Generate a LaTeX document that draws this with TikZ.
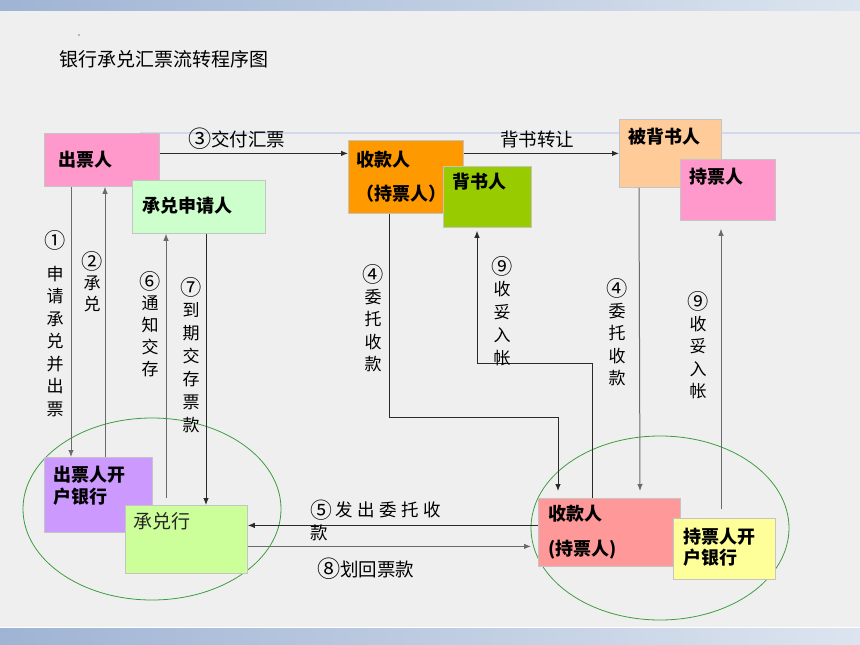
\documentclass[tikz,border=0pt]{standalone}
\usepackage{fontspec}
\setmainfont{Noto Sans CJK SC}
\usetikzlibrary{arrows.meta,calc}
\definecolor{bg}{HTML}{EFEFEF}
\definecolor{barA}{HTML}{9FB4D4}
\definecolor{barB}{HTML}{DCE4EF}
\definecolor{boxline}{HTML}{C4C4C4}
\definecolor{cpink}{HTML}{FF99CC}
\definecolor{corange}{HTML}{FF9900}
\definecolor{cgreen}{HTML}{99CC00}
\definecolor{cpeach}{HTML}{FFCC99}
\definecolor{clgreen}{HTML}{CCFFCC}
\definecolor{cpurple}{HTML}{CC99FF}
\definecolor{cyg}{HTML}{CCFF99}
\definecolor{csalmon}{HTML}{FF9999}
\definecolor{cyellow}{HTML}{FFFF99}
\definecolor{ellgreen}{HTML}{3E9E3E}
\definecolor{linedark}{HTML}{2A2A2A}
\definecolor{linegrey}{HTML}{6A6A6A}
\newcommand\cnum[1]{\raisebox{-0.09em}{\scalebox{1.25}{#1}}}
\begin{document}
\begin{tikzpicture}[x=1pt,y=-1pt,
  box/.style={draw=boxline, line width=0.8pt, inner sep=0pt, anchor=north west},
  boxtxt/.style={inner sep=0pt, anchor=west, align=left, font=\fontsize{18}{22}\selectfont\bfseries},
  lbl/.style={inner sep=0pt, anchor=west, font=\fontsize{18.5}{22}\selectfont},
  vlbl/.style={inner sep=0pt, anchor=north, align=center, font=\fontsize{17}{23}\selectfont},
  arrd/.style={draw=linedark, line width=0.9pt, -{Latex[length=7pt,width=5.5pt]}},
  arrg/.style={draw=linegrey, line width=1pt, -{Latex[length=7pt,width=5.5pt]}},
  ell/.style={draw=ellgreen, line width=0.8pt}
]
\useasboundingbox (0,0) rectangle (860,645);
% background
\fill[bg] (0,0) rectangle (860,645);
\shade[left color=barA, right color=barB] (0,0) rectangle (860,10);
\shade[left color=barA, right color=barB] (0,627) rectangle (860,645);
\draw[white, line width=1pt] (0,627) -- (860,627);
\draw[barB!80!barA, line width=1.5pt] (140,133) -- (860,133);
\fill[gray] (79,35) circle (0.8);

% title
\node[lbl, font=\fontsize{19}{22}\selectfont] (title) at (59,59) {银行承兑汇票流转程序图};

% ellipses
\draw[ell] (152,509) ellipse [x radius=129, y radius=91];
\draw[ell] (660,528) ellipse [x radius=129, y radius=92];

% boxes
\node[box, fill=cpink, minimum width=115pt, minimum height=53pt] (cp) at (44,133) {};
\node[box, fill=clgreen, minimum width=133pt, minimum height=53pt] (sq) at (132,180) {};
\node[box, fill=corange, minimum width=115pt, minimum height=73pt] (sk) at (348,140) {};
\node[box, fill=cgreen, minimum width=88pt, minimum height=61pt] (bs) at (443,166) {};
\node[box, fill=cpeach, minimum width=102pt, minimum height=68pt] (bbs) at (619,119) {};
\node[box, fill=cpink, minimum width=95pt, minimum height=61pt] (cpr) at (680,159) {};
\node[box, fill=cpurple, minimum width=108pt, minimum height=75pt] (cpb) at (44,457) {};
\node[box, fill=cyg, minimum width=122pt, minimum height=68pt] (cdh) at (125,505) {};
\node[box, fill=csalmon, minimum width=142pt, minimum height=68pt] (skb) at (538,498) {};
\node[box, fill=cyellow, minimum width=102pt, minimum height=61pt] (cpkb) at (673,518) {};

% box texts
\node[boxtxt] (cpT) at (58,160) {出票人};
\node[boxtxt] (sqT) at (142,206) {承兑申请人};
\begin{scope}
\clip (348,140) rectangle (443,213) (443,140) rectangle (463,166);
\node[boxtxt, font=\fontsize{18}{34}\selectfont\bfseries] (skT) at (356,177) {收款人\\（持票人）};
\end{scope}
\node[boxtxt] (bsT) at (452,182) {背书人};
\node[boxtxt] (bbsT) at (628,137) {被背书人};
\node[boxtxt] (cprT) at (689,177) {持票人};
\node[boxtxt] (cpbT) at (53,486) {出票人开\\户银行};
\node[lbl, font=\fontsize{19}{22}\selectfont, text=black!85] (cdhT) at (133,521) {承兑行};
\node[boxtxt, font=\fontsize{18}{35}\selectfont\bfseries] (skbT) at (548,532.5) {收款人\\(持票人)};
\node[boxtxt, font=\fontsize{18}{21}\selectfont\bfseries] (cpkbT) at (683,547.5) {持票人开\\户银行};

% connectors
\draw[arrd] ([yshift=6.5pt]cp.east) -- ([yshift=23.5pt]sk.west);
\draw[arrd] ([yshift=23.5pt]sk.east) -- (bbs.west);
\draw[arrg] ([xshift=27pt]cp.south west) -- ([xshift=27pt]cpb.north west);
\draw[arrg] ([xshift=61pt]cpb.north west) -- ([xshift=61pt]cp.south west);
\draw[arrg] ([xshift=41pt,yshift=7pt]cdh.north west) -- ([xshift=34pt]sq.south west);
\draw[arrd] ([xshift=74pt]sq.south west) -- ([xshift=81pt]cdh.north west);
\draw[arrd] ([xshift=41pt]sk.south west) -- ++(0,204) -| ([xshift=20pt,yshift=7pt]skb.north west);
\draw[arrd] ([xshift=54pt]skb.north west) -- ++(0,-135) -| ([xshift=34pt,yshift=-3pt]bs.south west);
\draw[arrg] ([xshift=20pt]bbs.south west) -- ([xshift=102pt,yshift=7pt]skb.north west);
\draw[arrg] ([xshift=48pt,yshift=9pt]cpkb.north west) -- ([xshift=41pt,yshift=-8pt]cpr.south west);
\draw[arrd] ([yshift=7pt]skb.west) -- ([yshift=14pt]cdh.east);
\draw[arrg] ([yshift=-7pt]cdh.east) -- ([xshift=-7pt,yshift=-14pt]skb.west);

% connector labels
\node[lbl] (l3) at (188,139) {\cnum{③}交付汇票};
\node[lbl] (lbz) at (500,139) {背书转让};
\node[vlbl, font=\fontsize{17}{22.5}\selectfont] (l1) at (55,230) {\cnum{①}\\[11pt]申\\请\\承\\兑\\并\\出\\票};
\node[vlbl, font=\fontsize{17}{21.5}\selectfont] (l2) at (92,251) {\cnum{②}\\承\\兑};
\node[vlbl, font=\fontsize{17}{22}\selectfont] (l6) at (150,271) {\cnum{⑥}\\通\\知\\交\\存};
\node[vlbl] (l7) at (191,277) {\cnum{⑦}\\到\\期\\交\\存\\票\\款};
\node[vlbl, font=\fontsize{17}{22.5}\selectfont] (l4a) at (373,264) {\cnum{④}\\委\\托\\收\\款};
\node[vlbl] (l9a) at (502,256) {\cnum{⑨}\\收\\妥\\入\\帐};
\node[vlbl, font=\fontsize{17}{22.5}\selectfont] (l4b) at (617,278) {\cnum{④}\\委\\托\\收\\款};
\node[vlbl, font=\fontsize{17}{22.5}\selectfont] (l9b) at (698,291) {\cnum{⑨}\\收\\妥\\入\\帐};
\node[lbl, align=left, font=\fontsize{17.5}{23}\selectfont] (l5) at (310,520.5)
  {\cnum{⑤}\hspace{3.5pt}发\hspace{4.5pt}出\hspace{4.5pt}委\hspace{4.5pt}托\hspace{4.5pt}收\\款};
\node[lbl] (l8) at (317,569) {\cnum{⑧}划回票款};
\end{tikzpicture}
\end{document}
